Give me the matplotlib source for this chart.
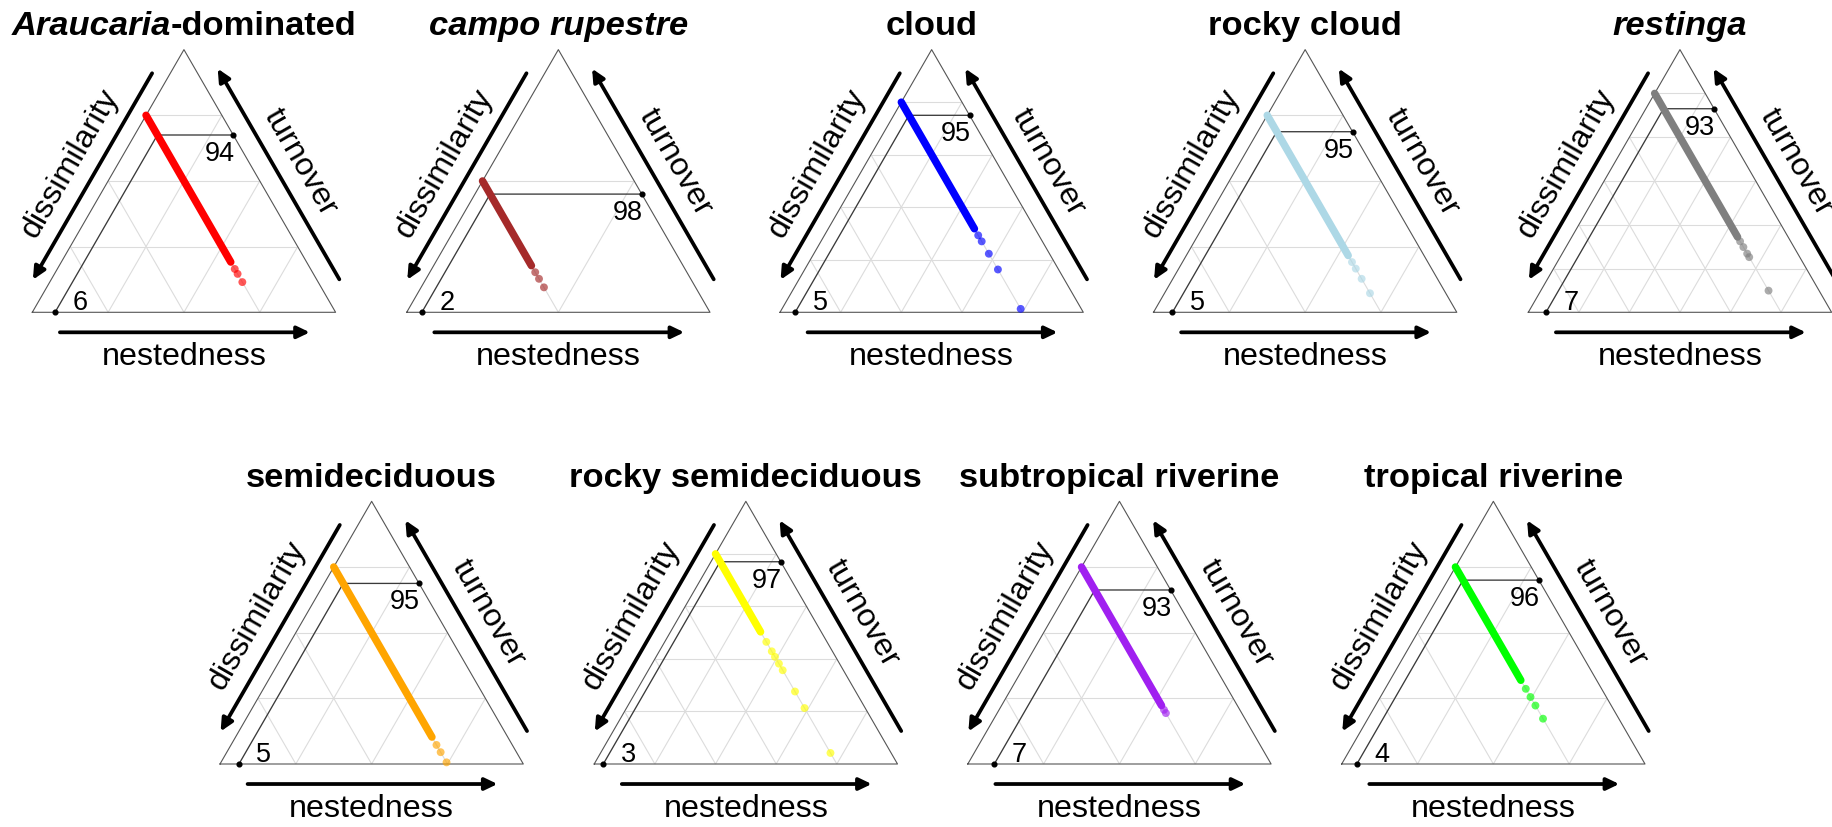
import numpy as np
import matplotlib
matplotlib.use("Agg")
import matplotlib.pyplot as plt
from matplotlib.offsetbox import TextArea, HPacker, AnnotationBbox

plt.rcParams['font.family'] = ['Liberation Sans', 'DejaVu Sans']

# Vegetation types: title pieces as (text, italic)
titles = [
    [("Araucaria", True), ("-dominated", False)],
    [("campo rupestre", True)],
    [("cloud", False)],
    [("rocky cloud", False)],
    [("restinga", True)],
    [("semideciduous", False)],
    [("rocky semideciduous", False)],
    [("subtropical riverine", False)],
    [("tropical riverine", False)],
]
colors = ["#FF0000", "#A52A2A", "#0000FF", "#ADD8E6", "#7F7F7F",
          "#FFA500", "#FFFF00", "#A020F0", "#00FF00"]

# Width of the visible window on each ternary axis (zoomed simplex)
axis_span = [0.4, 0.2, 0.5, 0.4, 0.6, 0.4, 0.5, 0.4, 0.4]

# Mean share of dissimilarity due to turnover (%)
mean_turnover_pct = [94, 98, 95, 95, 93, 95, 97, 93, 96]

# Turnover share of dissimilarity for pairwise comparisons:
# the bulk of pairs spans dense_upper..dense_lower, sparse_pairs are the rest
dense_upper = [1.0, 1.0, 1.0, 1.0, 1.0, 1.0, 1.0, 1.0, 1.0]
dense_lower = [0.553, 0.871, 0.518, 0.573, 0.344, 0.482, 0.703, 0.578, 0.655]
sparse_pairs = [
    [0.532, 0.517, 0.492],
    [0.861, 0.851, 0.838],
    [0.493, 0.470, 0.423, 0.363, 0.213],
    [0.553, 0.533, 0.502, 0.458],
    [0.324, 0.298, 0.268, 0.252, 0.099],
    [0.458, 0.436, 0.405],
    [0.665, 0.629, 0.608, 0.582, 0.557, 0.476, 0.413, 0.242],
    [0.565, 0.555],
    [0.629, 0.604, 0.578, 0.538],
]

axis_names = ["dissimilarity", "turnover", "nestedness"]

# Lower limits of the zoomed simplex
D_MIN, N_MIN = 0.4, 0.0
SQ3 = np.sqrt(3) / 2

FIG_W, FIG_H, DPI = 1832, 828, 100
TRI_W = 303.3
origins = [(32.3, 313.3), (406.7, 313.3), (780.0, 313.3), (1153.5, 313.3), (1528.3, 313.3),
           (220.0, 765.0), (594.2, 765.0), (967.8, 765.0), (1341.7, 765.0)]

fig = plt.figure(figsize=(FIG_W / DPI, FIG_H / DPI), dpi=DPI)
fig.patch.set_facecolor("white")

X0, X1, Y0, Y1 = -0.25, 1.25, -0.3, 1.1

GRID_C = "#dcdcdc"
EDGE_C = "#555555"
MEAN_C = "#3a3a3a"
PT = 5.4
TITLE_FS, LABEL_FS, NUM_FS = 24.8, 23.2, 19.5


def ternary(ax_span, t_min):
    def proj(t, n):
        tp = (np.asarray(t) - t_min) / ax_span
        nq = (np.asarray(n) - N_MIN) / ax_span
        return nq + tp / 2, tp * SQ3
    return proj


def arrow(ax, tail, tip):
    ax.annotate("", xy=tip, xytext=tail, xycoords="data",
                arrowprops=dict(arrowstyle="-|>,head_length=0.75,head_width=0.36",
                                lw=2.7, color="black", shrinkA=0, shrinkB=0,
                                mutation_scale=10))


for i in range(9):
    ox, oy = origins[i]
    ax = fig.add_axes([(ox + X0 * TRI_W) / FIG_W,
                       (FIG_H - (oy - Y0 * TRI_W)) / FIG_H,
                       (X1 - X0) * TRI_W / FIG_W,
                       (Y1 - Y0) * TRI_W / FIG_H])
    ax.set_xlim(X0, X1)
    ax.set_ylim(Y0, Y1)
    ax.axis("off")

    span = axis_span[i]
    t_min = 1 - D_MIN - N_MIN - span
    proj = ternary(span, t_min)

    # grid every 0.1 on each axis
    nstep = int(round(span / 0.1))
    for k in range(1, nstep):
        f = k / nstep
        kw = dict(color=GRID_C, lw=0.8, zorder=1, solid_capstyle="butt")
        ax.plot([f / 2, 1 - f / 2], [f * SQ3, f * SQ3], **kw)
        ax.plot([f, (1 + f) / 2], [0, (1 - f) * SQ3], **kw)
        ax.plot([1 - f, (1 - f) / 2], [0, (1 - f) * SQ3], **kw)

    # outer triangle
    ax.plot([0, 1, 0.5, 0], [0, 0, SQ3, 0], color=EDGE_C, lw=0.8, zorder=2)

    # pairwise comparisons: dissimilarity = turnover + nestedness
    col = colors[i]
    s_band = np.array([dense_upper[i], dense_lower[i]])
    bx, by = proj(s_band / 2, (1 - s_band) / 2)
    ax.plot(bx, by, color=col, lw=PT, solid_capstyle="round", zorder=4)
    s_sp = np.array(sparse_pairs[i])
    px, py = proj(s_sp / 2, (1 - s_sp) / 2)
    ax.scatter(px, py, s=(PT * 1.05) ** 2, color=col, alpha=0.65, edgecolors="none", zorder=4)

    # mean partition reference lines
    m = mean_turnover_pct[i] / 100
    jx, jy = proj(m / 2, (1 - m) / 2)
    bdx, bdy = proj(t_min, (1 - m) / 2)
    rdx, rdy = proj(m / 2, 1 - D_MIN - m / 2)
    ax.plot([bdx, jx, rdx], [bdy, jy, rdy], color=MEAN_C, lw=0.95, zorder=3)
    ax.plot([bdx, rdx], [bdy, rdy], "o", color="black", ms=3.4, zorder=5)
    ax.text(rdx - 0.046, rdy - 0.016, f"{mean_turnover_pct[i]}", ha="center", va="top",
            fontsize=NUM_FS, zorder=6)
    ax.text(bdx + 0.082, bdy + 0.01, f"{100 - mean_turnover_pct[i]}", ha="center",
            va="baseline", fontsize=NUM_FS, zorder=6)

    # axis arrows
    def left_pt(f, o):
        return (0.5 * f - SQ3 * o, SQ3 * f + 0.5 * o)

    def right_pt(f, o):
        return (1 - 0.5 * f + SQ3 * o, SQ3 * f + 0.5 * o)

    arrow(ax, left_pt(0.88, 0.052), left_pt(0.094, 0.052))
    arrow(ax, right_pt(0.088, 0.065), right_pt(0.89, 0.065))
    arrow(ax, (0.091, -0.066), (0.915, -0.066))

    lx, ly = left_pt(0.49, 0.14)
    ax.text(lx, ly, axis_names[0], rotation=60, rotation_mode="anchor",
            ha="center", va="center", fontsize=LABEL_FS)
    rx, ry = right_pt(0.49, 0.149)
    ax.text(rx, ry, axis_names[1], rotation=-60, rotation_mode="anchor",
            ha="center", va="center", fontsize=LABEL_FS)
    ax.text(0.5, -0.170, axis_names[2], ha="center", va="baseline", fontsize=LABEL_FS)

    # title
    parts = [TextArea(txt, textprops=dict(fontsize=TITLE_FS, fontweight="bold",
                                          fontstyle="italic" if it else "normal"))
             for txt, it in titles[i]]
    pack = HPacker(children=parts, align="baseline", pad=0, sep=0)
    ab = AnnotationBbox(pack, (0.5, 0.895), xycoords="data", box_alignment=(0.5, 0.0),
                        frameon=False, pad=0, annotation_clip=False)
    ax.add_artist(ab)

fig.savefig("out.png", dpi=DPI, facecolor="white")
